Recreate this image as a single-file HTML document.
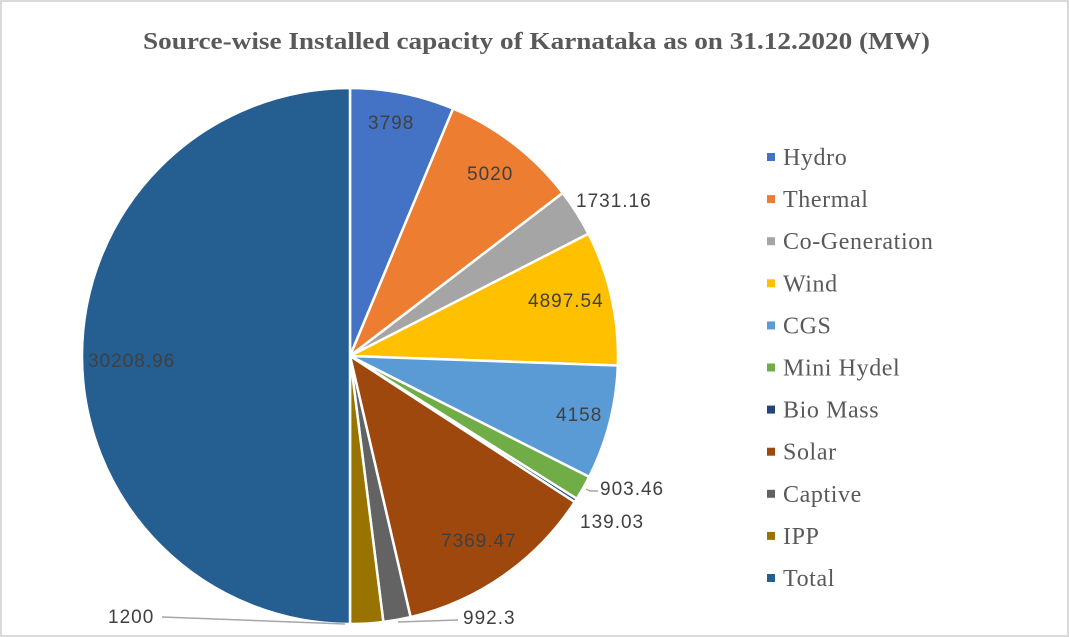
<!DOCTYPE html>
<html><head><meta charset="utf-8"><style>
html,body{margin:0;padding:0;background:#fff}
#w{position:relative;width:1065px;height:633px;border:2px solid #d9d9d9;overflow:hidden}
</style></head><body><div id="w">
<svg id="s" width="1065" height="633" viewBox="2 2 1065 633" xmlns="http://www.w3.org/2000/svg">
<text x="143" y="49" textLength="787" lengthAdjust="spacingAndGlyphs" font-family="Liberation Serif, serif" font-weight="bold" font-size="24" fill="#595959">Source-wise Installed capacity of Karnataka as on 31.12.2020 (MW)</text>
<g id="pie"></g>
<g font-family="Liberation Sans, sans-serif" font-size="19" fill="#404040" letter-spacing="1">
<text x="368" y="129">3798</text>
<text x="467" y="180">5020</text>
<text x="576" y="207">1731.16</text>
<text x="528" y="307">4897.54</text>
<text x="556" y="421">4158</text>
<text x="600" y="495">903.46</text>
<text x="580" y="528">139.03</text>
<text x="441" y="547">7369.47</text>
<text x="463" y="624">992.3</text>
<text x="108" y="623">1200</text>
<text x="88" y="367">30208.96</text>
</g>
<g stroke="#a6a6a6" stroke-width="1.5" fill="none">
<polyline points="586,489 590,491 598,491"/>
<polyline points="398,622 458,620"/>
<polyline points="162,617 345,624"/>
</g>
<g font-family="Liberation Serif, serif" font-size="24" fill="#595959" letter-spacing="0.6" id="leg"></g>
</svg>
<script>
var cx=350,cy=356,r=268;
var d=[["Hydro",3798,"#4472C4"],["Thermal",5020,"#ED7D31"],["Co-Generation",1731.16,"#A5A5A5"],["Wind",4897.54,"#FFC000"],["CGS",4158,"#5B9BD5"],["Mini Hydel",903.46,"#70AD47"],["Bio Mass",139.03,"#264478"],["Solar",7369.47,"#9E480E"],["Captive",992.3,"#636363"],["IPP",1200,"#997300"],["Total",30208.96,"#255E91"]];
var tot=0;d.forEach(function(e){tot+=e[1]});
var a=0,h="",L="";
function pt(t){return [cx+r*Math.sin(t),cy-r*Math.cos(t)];}
d.forEach(function(e,i){
 var b=a+e[1]/tot*2*Math.PI,p=pt(a),q=pt(b),lg=(b-a)>Math.PI?1:0;
 h+='<path d="M'+cx+','+cy+' L'+p[0]+','+p[1]+' A'+r+','+r+' 0 '+lg+' 1 '+q[0]+','+q[1]+' Z" fill="'+e[2]+'" stroke="#fff" stroke-width="2.5" stroke-linejoin="round"/>';
 a=b;
 var y=157+i*42.1;
 L+='<rect x="767" y="'+(y-4)+'" width="8" height="8" fill="'+e[2]+'"/><text x="783" y="'+(y+8)+'">'+e[0]+'</text>';
});
document.getElementById("pie").innerHTML=h;
document.getElementById("leg").innerHTML=L;
</script>
</div></body></html>
